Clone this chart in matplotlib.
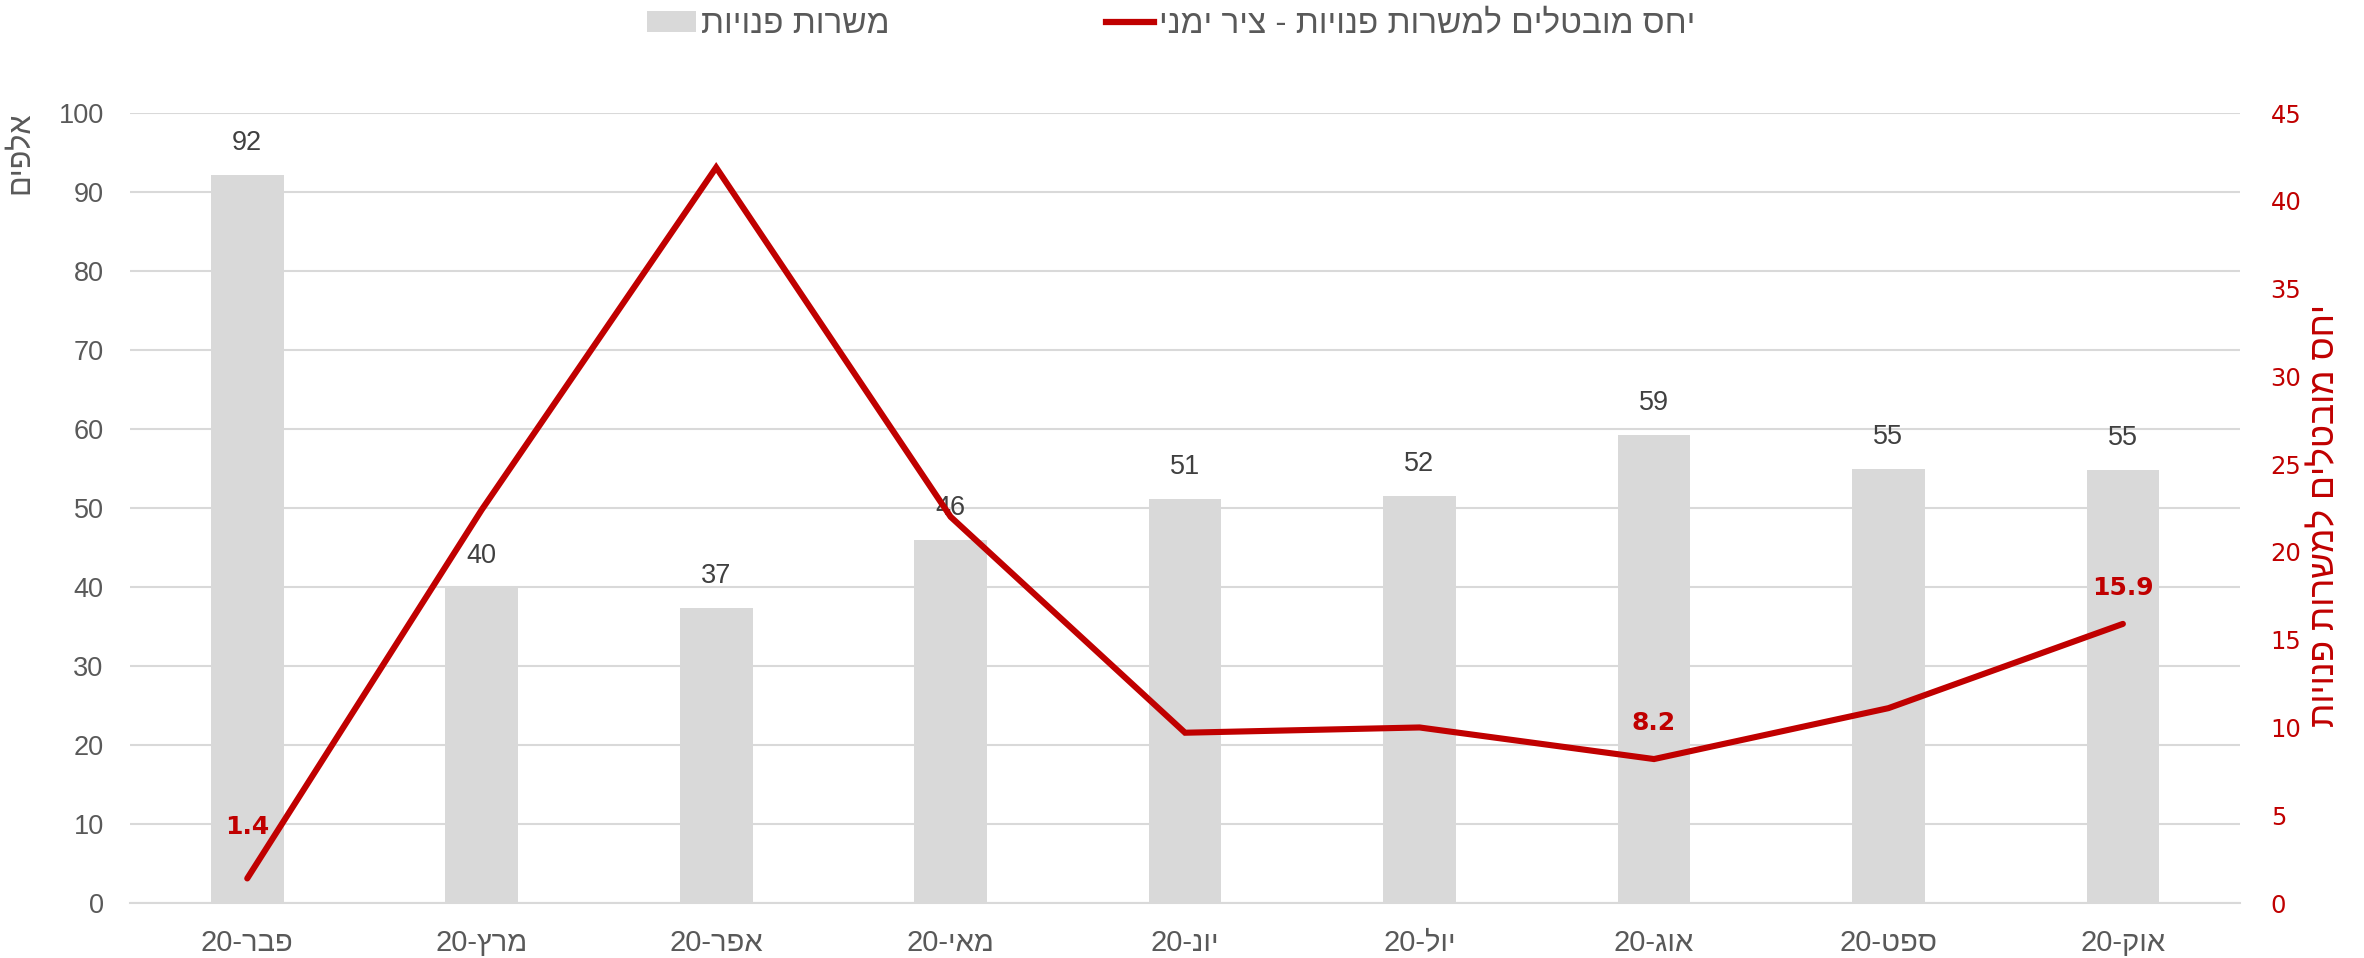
import numpy as np
import matplotlib
matplotlib.use('Agg')
import matplotlib.pyplot as plt
from matplotlib.patches import Patch
from matplotlib.lines import Line2D

plt.rcParams.update({
    'font.family': ['Liberation Sans', 'DejaVu Sans'],
    'axes.unicode_minus': False,
})

# data (Hebrew, logical order)
months = ['פבר', 'מרץ', 'אפר', 'מאי', 'יונ', 'יול', 'אוג', 'ספט', 'אוק']
year = '20'
vacancies = [92.2, 39.9, 37.3, 46.0, 51.2, 51.5, 59.2, 55.0, 54.8]     # thousands
ratio = [1.4, 22.4, 41.9, 22.0, 9.7, 10.0, 8.2, 11.1, 15.9]
ratio_labelled = [0, 6, 8]   # indices with a value label on the line
bar_name = 'משרות פנויות'
line_name = 'יחס מובטלים למשרות פנויות - ציר ימני'
left_title = 'אלפים'
right_title = 'יחס מובטלים למשרות פנויות'

# matplotlib has no bidi: feed glyphs in visual (left-to-right) order
def vis(s):
    return s[::-1]

xlabels = [year + '-' + vis(m) for m in months]

GRAY_TXT = '#595959'
LBL_TXT = '#404040'
BAR = '#D9D9D9'
RED = '#C00000'

fig = plt.figure(figsize=(23.64, 9.58), dpi=100)
ax = fig.add_axes([0.055, 0.0574, 0.8926, 0.8246])
x = np.arange(len(months))

ax.bar(x, vacancies, width=0.31, color=BAR, zorder=2)
for xi, v in zip(x, vacancies):
    ax.annotate(f'{v:.0f}', (xi, v), xytext=(0, 23), textcoords='offset points',
                ha='center', va='center', fontsize=19.5, color=LBL_TXT)

ax.set_xlim(-0.5, len(months) - 0.5)
ax.set_ylim(0, 100)
ax.set_yticks(np.arange(0, 101, 10))
ax.set_xticks(x)
ax.set_xticklabels(xlabels, fontsize=21)
ax.grid(axis='y', color='#D9D9D9', lw=1.5, zorder=0)
ax.set_axisbelow(True)
for s in ['top', 'right', 'left']:
    ax.spines[s].set_visible(False)
ax.spines['bottom'].set_color('#D9D9D9')
ax.spines['bottom'].set_linewidth(1.5)
ax.tick_params(axis='both', length=0, colors=GRAY_TXT)
ax.tick_params(axis='y', pad=19, labelsize=19.5)
ax.tick_params(axis='x', pad=19)

ax2 = ax.twinx()
ax2.plot(x, ratio, color=RED, lw=4.4, solid_capstyle='round', solid_joinstyle='miter', zorder=3)
ax2.set_ylim(0, 45)
ax2.set_yticks(np.arange(0, 46, 5))
for s in ax2.spines.values():
    s.set_visible(False)
ax2.tick_params(axis='y', length=0, pad=22, colors=RED)
for t in ax2.get_yticklabels():
    t.set_family('DejaVu Sans')
    t.set_fontsize(17.5)
offs = {0: 37, 6: 26, 8: 26}
for i in ratio_labelled:
    ax2.annotate(f'{ratio[i]:.1f}', (x[i], ratio[i]), xytext=(0, offs[i]), textcoords='offset points',
                 ha='center', va='center', fontsize=18, color=RED, fontweight='bold',
                 family=['DejaVu Sans'])

fig.text(0.0085, 0.884, vis(left_title), rotation=90, ha='center', va='top',
         fontsize=22, color=GRAY_TXT)
fig.text(0.9835, 0.462, vis(right_title), rotation=90, ha='center', va='center',
         fontsize=25.5, color=RED)

handles = [Patch(facecolor=BAR, edgecolor='none'),
           Line2D([0], [0], color=RED, lw=4.5)]
fig.legend(handles, [vis(bar_name), vis(line_name)], loc='upper center',
           bbox_to_anchor=(0.4955, 1.022), ncol=2, frameon=False, fontsize=24,
           labelcolor=GRAY_TXT, handlelength=1.45, handleheight=0.6,
           handletextpad=0.15, columnspacing=6.5)

fig.savefig('out.png', dpi=100)
